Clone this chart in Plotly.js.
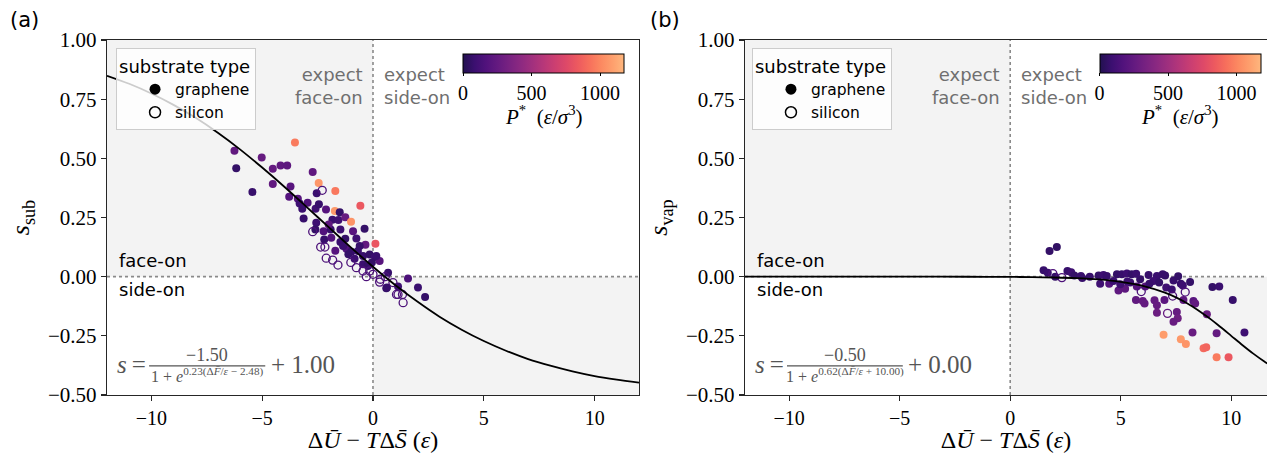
<!DOCTYPE html>
<html>
<head>
<meta charset="utf-8">
<script src="https://cdn.plot.ly/plotly-3.0.1.min.js"></script>
<style>html,body{margin:0;padding:0;overflow:hidden;background:#fff;}</style>
</head>
<body>
<div id="chart" style="width:1267px;height:453px;"></div>
<script>
// ---------- data: panel (a) ----------
const leftGrapheneX = [-3.52,-6.25,-6.17,-5.02,-4.52,-4.17,-3.87,-5.44,-4.52,-3.72,-2.72,-2.45,-2.54,-1.70,-0.57,-3.78,-3.39,-3.31,-2.95,-3.19,-2.59,-2.44,-2.12,-1.72,-1.50,-3.13,-2.56,-1.83,-1.56,-1.25,-0.99,-2.60,-2.23,-1.91,-1.47,-0.90,-0.38,-2.20,-1.88,-1.47,-1.25,-0.75,-0.34,0.11,-1.20,-0.98,-0.68,-1.11,-0.83,-0.45,-0.15,0.09,0.30,-0.45,-0.23,0.68,0.60,1.58,2.03,2.35,0.63,1.13,0.15,-0.05,-2.00,-1.35,-0.60,-1.70];
const leftGrapheneY = [0.567,0.532,0.458,0.504,0.456,0.470,0.470,0.358,0.392,0.381,0.442,0.396,0.352,0.362,0.300,0.338,0.329,0.309,0.312,0.287,0.287,0.306,0.284,0.277,0.272,0.246,0.228,0.241,0.239,0.251,0.232,0.199,0.192,0.199,0.199,0.192,0.202,0.157,0.164,0.147,0.160,0.161,0.135,0.139,0.118,0.105,0.108,0.095,0.076,0.087,0.094,0.083,0.066,0.052,0.045,0.017,-0.049,-0.008,-0.046,-0.086,-0.046,-0.042,0.087,0.060,0.220,0.130,0.130,0.110];
const leftGrapheneP = [960,240,60,260,250,230,220,70,240,200,230,1060,80,950,830,180,200,90,160,80,100,70,190,1070,60,70,90,80,100,260,1050,60,170,70,90,200,60,70,180,80,60,100,240,820,170,70,80,60,90,70,60,100,200,80,60,70,60,150,80,60,70,90,80,60,220,80,70,190];
const leftSiliconX = [-2.29,-2.72,-2.36,-2.17,-2.11,-1.82,-1.58,-0.75,-0.45,-0.15,0.30,1.06,0.90,1.13,1.33,1.36,0.33,0.00,-1.00,0.55,-0.30];
const leftSiliconY = [0.365,0.190,0.125,0.125,0.078,0.070,0.049,0.038,0.024,0.024,-0.023,-0.075,-0.025,-0.075,-0.075,-0.110,-0.011,0.010,0.060,0.000,0.000];
const leftSiliconP = [150,150,150,150,150,150,150,150,150,150,150,150,150,150,150,150,150,150,150,150,150];

// ---------- data: panel (b) ----------
const rightGrapheneX = [1.78,2.11,1.51,1.70,2.04,2.59,2.76,2.90,3.20,3.26,4.00,4.22,4.37,4.07,4.48,4.67,4.83,5.05,5.28,5.50,4.90,5.20,4.98,5.43,5.73,5.88,6.11,6.26,6.64,7.01,7.39,6.48,6.74,7.06,7.31,7.72,8.14,7.81,7.84,8.29,8.37,6.98,6.53,6.64,5.69,6.00,6.08,6.64,7.54,7.58,7.39,8.90,9.15,9.46,10.07,10.60,9.34,8.25,6.94,7.72,7.95,8.75,8.87,9.34,9.88,3.60,5.70,6.90,7.60,5.30,6.30];
const rightGrapheneY = [0.108,0.125,0.027,0.017,0.000,0.024,0.019,0.005,0.003,-0.006,0.005,0.007,0.003,-0.030,-0.030,-0.018,0.010,0.010,0.013,0.010,-0.058,-0.051,-0.032,-0.025,-0.042,-0.011,-0.042,0.007,0.003,0.005,-0.016,-0.018,-0.025,-0.046,-0.054,-0.030,-0.023,-0.037,-0.099,-0.103,-0.113,-0.099,-0.100,-0.121,-0.099,-0.103,-0.113,-0.152,-0.149,-0.176,-0.191,-0.159,-0.044,-0.042,-0.099,-0.236,-0.239,-0.236,-0.245,-0.264,-0.285,-0.302,-0.298,-0.341,-0.341,0.000,0.012,0.010,0.002,-0.020,-0.030];
const rightGrapheneP = [60,50,70,80,60,70,90,60,80,70,60,90,70,100,180,80,60,70,90,60,230,220,100,80,200,60,190,70,80,60,70,90,60,100,80,70,60,90,220,200,240,210,250,260,240,260,250,280,260,290,270,280,60,80,70,90,250,270,1080,1070,1050,900,880,960,830,70,80,70,60,90,70];
const rightSiliconX = [1.93,2.34,5.93,7.35,7.92,7.12];
const rightSiliconY = [0.013,-0.004,-0.063,-0.082,-0.065,-0.155];
const rightSiliconP = [150,150,150,150,150,250];

// ---------- fitted sigmoid curves ----------
const fitLeftX = [-12,-11,-10,-9,-8,-7,-6,-5,-4,-3,-2,-1,0,1,2,3,4,5,6,7,8,9,10,11,12];
const fitLeftY = [0.849,0.815,0.774,0.726,0.671,0.608,0.538,0.461,0.380,0.295,0.209,0.124,0.042,-0.035,-0.105,-0.169,-0.224,-0.272,-0.313,-0.348,-0.376,-0.400,-0.420,-0.435,-0.448];
const fitRightX = [-12,-8,-4,-2,0,1,2,3,4,5,6,7,7.5,8,8.5,9,9.5,10,10.5,11,11.5,12];
const fitRightY = [0,0,0,-0.0003,-0.001,-0.0019,-0.0035,-0.0065,-0.0118,-0.0216,-0.0386,-0.0674,-0.0876,-0.1122,-0.1415,-0.1749,-0.2116,-0.25,-0.2885,-0.3251,-0.3585,-0.3878];

// ---------- text ----------
const panelLabels = ['(a)', '(b)'];
const yTitles = ['<i>s</i><sub>sub</sub>', '<i>s</i><sub>vap</sub>'];
const xTitle = 'Δ<i>Ū</i> − <i>T</i>Δ<i>S̄</i> (<i>ε</i>)';
const numerators = ['−1.50', '−0.50'];
const denominators = ['1 + <i>e</i><sup>0.23(Δ<i>F̄</i>/<i>ε</i> − 2.48)</sup>', '1 + <i>e</i><sup>0.62(Δ<i>F̄</i>/<i>ε</i> + 10.00)</sup>'];
const offsets = ['+ 1.00', '+ 0.00'];
const cbTitle = '<i>P</i><sup>*</sup>  (<i>ε</i>/<i>σ</i><sup>3</sup>)';
const xTicks = [-10, -5, 0, 5, 10];
const yTicks = [-0.5, -0.25, 0, 0.25, 0.5, 0.75, 1.0];
const cbTicks = [0, 500, 1000];
const pMax = 1175;

const magmaTrunc = [
  [0, '#221150'], [0.0714, '#3b0f70'], [0.1429, '#51127c'], [0.2143, '#641a80'],
  [0.2857, '#782281'], [0.3571, '#8c2981'], [0.4286, '#a1307e'], [0.5, '#b73779'],
  [0.5714, '#cc3f71'], [0.6429, '#de4968'], [0.7143, '#ed5a5f'], [0.7857, '#f7705c'],
  [0.8571, '#fc8961'], [0.9286, '#fe9f6d'], [1, '#feb77e']
];

const SERIF = 'Liberation Serif, DejaVu Serif, serif';
const SANS = 'DejaVu Sans, sans-serif';
const AXC = '#262626';

const panels = [
  {gx: leftGrapheneX, gy: leftGrapheneY, gp: leftGrapheneP, sx: leftSiliconX, sy: leftSiliconY, sp: leftSiliconP, fx: fitLeftX, fy: fitLeftY},
  {gx: rightGrapheneX, gy: rightGrapheneY, gp: rightGrapheneP, sx: rightSiliconX, sy: rightSiliconY, sp: rightSiliconP, fx: fitRightX, fy: fitRightY}
];

const traces = [];
const shapes = [];
const annotations = [];
const layout = {
  width: 1267, height: 453,
  margin: {l: 107, r: 0, t: 40, b: 58},
  paper_bgcolor: '#fff', plot_bgcolor: '#fff',
  font: {family: SANS, color: '#000'},
  hovermode: false,
  showlegend: true
};

const xDomains = [[0, 0.4586], [0.55, 1]];
const xRanges = [[-12, 12], [-12, 11.62]];
const legendX = [0.0078, 0.556];
const cbX = [0.3763, 0.925];

panels.forEach((p, i) => {
  const n = i === 0 ? '' : '2';
  const xr = 'x' + n, yr = 'y' + n;
  const ca = 'coloraxis' + n;
  const lg = 'legend' + n;

  traces.push({
    type: 'scatter', mode: 'markers', x: p.gx, y: p.gy, xaxis: xr, yaxis: yr,
    marker: {color: p.gp, coloraxis: ca, size: 8, symbol: 'circle', line: {width: 0}},
    showlegend: false
  });
  traces.push({
    type: 'scatter', mode: 'markers', x: p.sx, y: p.sy, xaxis: xr, yaxis: yr,
    marker: {color: p.sp, coloraxis: ca, size: 8, symbol: 'circle-open', line: {width: 1.3}},
    showlegend: false
  });
  traces.push({
    type: 'scatter', mode: 'lines', x: p.fx, y: p.fy, xaxis: xr, yaxis: yr,
    line: {color: '#000', width: 1.8, shape: 'spline', smoothing: 0.8},
    showlegend: false
  });
  // legend entries
  traces.push({
    type: 'scatter', mode: 'markers', x: [null], y: [null], xaxis: xr, yaxis: yr,
    name: 'graphene', legend: lg,
    marker: {color: '#000', size: 11, symbol: 'circle'}
  });
  traces.push({
    type: 'scatter', mode: 'markers', x: [null], y: [null], xaxis: xr, yaxis: yr,
    name: 'silicon', legend: lg,
    marker: {color: '#000', size: 11, symbol: 'circle-open', line: {width: 1.5}}
  });

  layout['xaxis' + n] = {
    domain: xDomains[i], range: xRanges[i], anchor: yr,
    showgrid: false, zeroline: false, showline: true, linecolor: AXC, linewidth: 1.3, mirror: true,
    ticks: 'outside', ticklen: 5, tickwidth: 1.3, tickcolor: AXC,
    tickvals: xTicks, tickfont: {family: SERIF, size: 20, color: '#000'},
    title: {text: xTitle, font: {family: SERIF, size: 24, color: '#000'}, standoff: 14},
    automargin: false, fixedrange: true
  };
  layout['yaxis' + n] = {
    domain: [0, 1], range: [-0.5, 1.0], anchor: xr,
    showgrid: false, zeroline: false, showline: true, linecolor: AXC, linewidth: 1.3, mirror: i === 0,
    ticks: 'outside', ticklen: 5, tickwidth: 1.3, tickcolor: AXC,
    tickvals: yTicks, tickformat: '.2f', tickfont: {family: SERIF, size: 21, color: '#000'},
    title: {text: yTitles[i], font: {family: SERIF, size: 26, color: '#000'}, standoff: 10},
    automargin: false, fixedrange: true
  };
  layout[ca] = {
    cmin: 0, cmax: pMax, colorscale: magmaTrunc,
    colorbar: {
      orientation: 'h', x: cbX[i], xanchor: 'center', y: 0.9606, yanchor: 'top',
      len: 161, lenmode: 'pixels', thickness: 19, thicknessmode: 'pixels',
      outlinewidth: 1, outlinecolor: '#000', bgcolor: 'rgba(0,0,0,0)', xpad: 0, ypad: 0,
      ticks: 'outside', ticklen: 3, tickwidth: 1, tickcolor: '#000',
      tickvals: cbTicks, tickfont: {family: SERIF, size: 20, color: '#000'}
    }
  };
  layout[lg] = {
    x: legendX[i], y: 0.977, xanchor: 'left', yanchor: 'top',
    bgcolor: 'rgba(255,255,255,0.8)', bordercolor: '#cccccc', borderwidth: 1,
    font: {family: SANS, size: 15.5, color: '#000'},
    title: {text: 'substrate type', font: {family: SANS, size: 18, color: '#000'}},
    indentation: 18, tracegroupgap: 0
  };

  // shaded quadrants
  shapes.push({type: 'rect', xref: xr, yref: yr, x0: -12, x1: 0, y0: 0, y1: 1, fillcolor: '#f3f3f3', line: {width: 0}, layer: 'below'});
  shapes.push({type: 'rect', xref: xr, yref: yr, x0: 0, x1: 12, y0: -0.5, y1: 0, fillcolor: '#f3f3f3', line: {width: 0}, layer: 'below'});
  // dotted guide lines
  shapes.push({type: 'line', xref: xr, yref: yr, x0: 0, x1: 0, y0: -0.5, y1: 1, line: {color: '#8a8a8a', width: 1.6, dash: 'dot'}, layer: 'below'});
  shapes.push({type: 'line', xref: xr, yref: yr, x0: -12, x1: 12, y0: 0, y1: 0, line: {color: '#8a8a8a', width: 1.6, dash: 'dot'}, layer: 'below'});
  // fraction bar
  shapes.push({type: 'line', xref: xr, yref: yr, x0: -10.1, x1: -4.86, y0: -0.377, y1: -0.377, line: {color: '#555', width: 1.3}});

  const gray = '#6f6f6f';
  annotations.push({xref: xr, yref: yr, x: -0.37, y: 0.806, xanchor: 'right', yanchor: 'middle', align: 'right', showarrow: false,
    text: 'expect<br>face-on', font: {family: SANS, size: 18, color: gray}});
  annotations.push({xref: xr, yref: yr, x: 0.42, y: 0.806, xanchor: 'left', yanchor: 'middle', align: 'left', showarrow: false,
    text: 'expect<br>side-on', font: {family: SANS, size: 18, color: gray}});
  annotations.push({xref: xr, yref: yr, x: -11.55, y: 0.069, xanchor: 'left', yanchor: 'middle', showarrow: false,
    text: 'face-on', font: {family: SANS, size: 18, color: '#000'}});
  annotations.push({xref: xr, yref: yr, x: -11.55, y: -0.054, xanchor: 'left', yanchor: 'middle', showarrow: false,
    text: 'side-on', font: {family: SANS, size: 18, color: '#000'}});
  // formula
  annotations.push({xref: xr, yref: yr, x: -11.65, y: -0.369, xanchor: 'left', yanchor: 'middle', showarrow: false,
    text: '<i>s</i>\u2009=', font: {family: SERIF, size: 25, color: '#555'}});
  annotations.push({xref: xr, yref: yr, x: -7.48, y: -0.331, xanchor: 'center', yanchor: 'middle', showarrow: false,
    text: numerators[i], font: {family: SERIF, size: 18, color: '#555'}});
  annotations.push({xref: xr, yref: yr, x: -7.48, y: -0.414, xanchor: 'center', yanchor: 'middle', showarrow: false,
    text: denominators[i], font: {family: SERIF, size: 16, color: '#555'}});
  annotations.push({xref: xr, yref: yr, x: -4.7, y: -0.369, xanchor: 'left', yanchor: 'middle', showarrow: false,
    text: offsets[i], font: {family: SERIF, size: 25, color: '#555'}});
  // colorbar title
  annotations.push({xref: 'paper', yref: 'paper', x: cbX[i], y: 0.787, xanchor: 'center', yanchor: 'middle', showarrow: false,
    text: cbTitle, font: {family: SERIF, size: 21, color: '#000'}});
  // panel label
  annotations.push({xref: 'paper', yref: 'paper', x: i === 0 ? -0.0853 : 0.4664, y: 1.056, xanchor: 'left', yanchor: 'middle', showarrow: false,
    text: panelLabels[i], font: {family: SANS, size: 21, color: '#000'}});
});

layout.shapes = shapes;
layout.annotations = annotations;

Plotly.newPlot('chart', traces, layout, {displayModeBar: false, staticPlot: true});
</script>
</body>
</html>
